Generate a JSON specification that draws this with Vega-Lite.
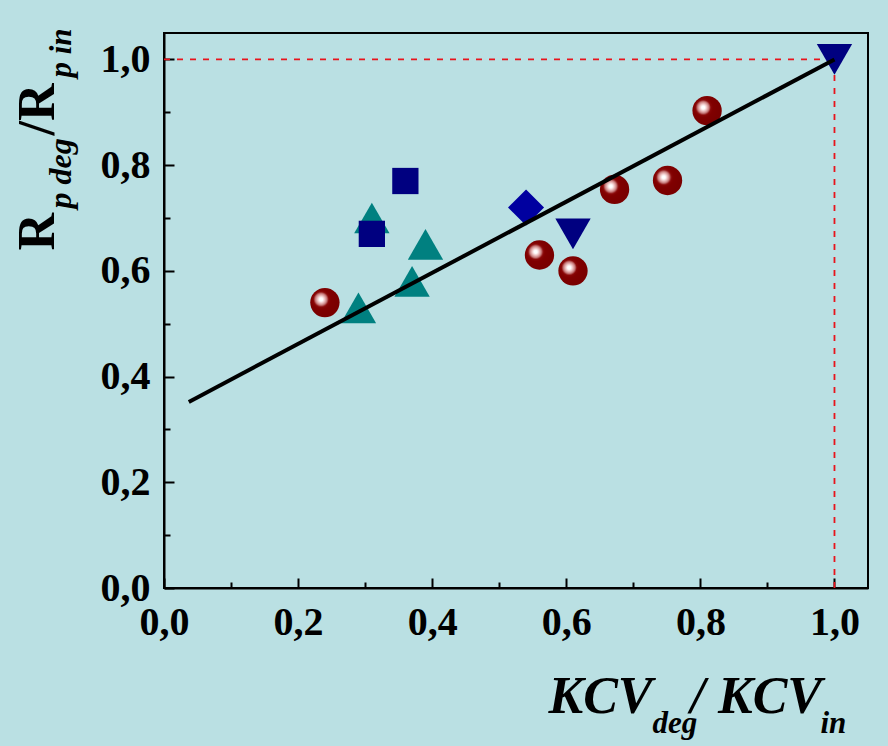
{
  "$schema": "https://vega.github.io/schema/vega-lite/v6.json",
  "width": 704,
  "height": 555,
  "autosize": {"type": "none"},
  "padding": {"left": 164, "top": 33, "right": 20, "bottom": 158},
  "background": "#bae0e3",
  "config": {
    "view": {"stroke": "#000000", "strokeWidth": 2},
    "axis": {
      "grid": false,
      "labelFont": "Liberation Serif",
      "titleFont": "Liberation Serif",
      "labelColor": "#000000",
      "titleColor": "#000000",
      "domainColor": "#000000",
      "tickColor": "#000000"
    }
  },
  "datasets": {
    "circles": [
      {"kcv": 0.24, "rp": 0.54},
      {"kcv": 0.56, "rp": 0.63},
      {"kcv": 0.61, "rp": 0.60},
      {"kcv": 0.672, "rp": 0.754},
      {"kcv": 0.751, "rp": 0.771},
      {"kcv": 0.81, "rp": 0.903}
    ],
    "markers": [
      {"kcv": 0.29, "rp": 0.53, "group": "tri"},
      {"kcv": 0.31, "rp": 0.70, "group": "tri"},
      {"kcv": 0.37, "rp": 0.58, "group": "tri"},
      {"kcv": 0.39, "rp": 0.65, "group": "tri"},
      {"kcv": 0.36, "rp": 0.77, "group": "sq"},
      {"kcv": 0.31, "rp": 0.67, "group": "sq"},
      {"kcv": 0.54, "rp": 0.72, "group": "dia"},
      {"kcv": 0.61, "rp": 0.67, "group": "down"},
      {"kcv": 1.0, "rp": 1.0, "group": "down"}
    ],
    "trend": [
      {"kcv": 0.037, "rp": 0.352},
      {"kcv": 1.0, "rp": 1.0}
    ],
    "hguide": [{"from": 0, "to": 1, "level": 1}],
    "vguide": [{"at": 1, "from": 0, "to": 1}]
  },
  "layer": [
    {
      "data": {"name": "hguide"},
      "mark": {"type": "rule", "color": "#e8141c", "strokeWidth": 1.8, "strokeDash": [6, 7]},
      "encoding": {
        "x": {
          "field": "from", "type": "quantitative",
          "scale": {"domain": [0, 1.05], "nice": false, "zero": false},
          "axis": {
            "orient": "bottom", "values": [0.1, 0.3, 0.5, 0.7, 0.9],
            "labels": false, "domain": false, "ticks": true, "tickSize": -6, "tickWidth": 2,
            "title": "deg", "titleFontSize": 31, "titleFontWeight": "bold", "titleFontStyle": "italic",
            "titleX": 488, "titleY": 144, "titleAlign": "left", "titleBaseline": "alphabetic", "titleAngle": 0
          }
        },
        "x2": {"field": "to"},
        "y": {
          "field": "level", "type": "quantitative",
          "scale": {"domain": [0, 1.05], "nice": false, "zero": false},
          "axis": {
            "orient": "left", "values": [0.1, 0.3, 0.5, 0.7, 0.9],
            "labels": false, "domain": false, "ticks": true, "tickSize": -6, "tickWidth": 2,
            "title": "p deg", "titleFontSize": 32, "titleFontWeight": "bold", "titleFontStyle": "italic",
            "titleX": -94, "titleY": 175, "titleAlign": "left", "titleBaseline": "alphabetic", "titleAngle": -90
          }
        }
      }
    },
    {
      "data": {"name": "vguide"},
      "mark": {"type": "rule", "color": "#e8141c", "strokeWidth": 1.8, "strokeDash": [6, 7]},
      "encoding": {
        "x": {
          "field": "at", "type": "quantitative",
          "scale": {"domain": [0, 1.05], "nice": false, "zero": false},
          "axis": {
            "orient": "bottom", "labels": false, "domain": false, "ticks": false,
            "title": "/ KCV", "titleFontSize": 52, "titleFontWeight": "bold", "titleFontStyle": "italic",
            "titleX": 526, "titleY": 124, "titleAlign": "left", "titleBaseline": "alphabetic", "titleAngle": 0
          }
        },
        "y": {
          "field": "from", "type": "quantitative",
          "scale": {"domain": [0, 1.05], "nice": false, "zero": false},
          "axis": {
            "orient": "left", "labels": false, "domain": false, "ticks": false,
            "title": "/R", "titleFontSize": 52, "titleFontWeight": "bold",
            "titleX": -111, "titleY": 102, "titleAlign": "left", "titleBaseline": "alphabetic", "titleAngle": -90
          }
        },
        "y2": {"field": "to"}
      }
    },
    {
      "data": {"name": "circles"},
      "mark": {
        "type": "point", "shape": "circle", "size": 860, "filled": true, "opacity": 1, "strokeWidth": 0,
        "fill": {
          "gradient": "radial",
          "x1": 0.37, "y1": 0.39, "r1": 0,
          "x2": 0.37, "y2": 0.39, "r2": 0.55,
          "stops": [
            {"offset": 0, "color": "#ffffff"},
            {"offset": 0.1, "color": "#ffffff"},
            {"offset": 0.22, "color": "#eec4c4"},
            {"offset": 0.36, "color": "#c67a7a"},
            {"offset": 0.47, "color": "#8a0808"},
            {"offset": 0.6, "color": "#800000"},
            {"offset": 1, "color": "#7a0000"}
          ]
        }
      },
      "encoding": {
        "x": {
          "field": "kcv", "type": "quantitative",
          "scale": {"domain": [0, 1.05], "nice": false, "zero": false},
          "axis": {
            "orient": "bottom", "labels": false, "domain": false, "ticks": false,
            "title": "in", "titleFontSize": 31, "titleFontWeight": "bold", "titleFontStyle": "italic",
            "titleX": 656, "titleY": 144, "titleAlign": "left", "titleBaseline": "alphabetic", "titleAngle": 0
          }
        },
        "y": {
          "field": "rp", "type": "quantitative",
          "scale": {"domain": [0, 1.05], "nice": false, "zero": false},
          "axis": {
            "orient": "left", "labels": false, "domain": false, "ticks": false,
            "title": "p in", "titleFontSize": 31, "titleFontWeight": "bold", "titleFontStyle": "italic",
            "titleX": -94, "titleY": 44, "titleAlign": "left", "titleBaseline": "alphabetic", "titleAngle": -90
          }
        }
      }
    },
    {
      "data": {"name": "markers"},
      "transform": [{"filter": "datum.group === 'tri'"}],
      "mark": {"type": "point", "shape": "triangle-up", "size": 1250, "filled": true, "opacity": 1, "color": "#008080"},
      "encoding": {
        "x": {"field": "kcv", "type": "quantitative", "scale": {"domain": [0, 1.05], "nice": false, "zero": false}, "axis": null},
        "y": {"field": "rp", "type": "quantitative", "scale": {"domain": [0, 1.05], "nice": false, "zero": false}, "axis": null}
      }
    },
    {
      "data": {"name": "markers"},
      "transform": [{"filter": "datum.group === 'sq'"}],
      "mark": {"type": "point", "shape": "square", "size": 690, "filled": true, "opacity": 1, "color": "#000080"},
      "encoding": {
        "x": {"field": "kcv", "type": "quantitative", "scale": {"domain": [0, 1.05], "nice": false, "zero": false}, "axis": null},
        "y": {"field": "rp", "type": "quantitative", "scale": {"domain": [0, 1.05], "nice": false, "zero": false}, "axis": null}
      }
    },
    {
      "data": {"name": "markers"},
      "transform": [{"filter": "datum.group === 'dia'"}],
      "mark": {"type": "point", "shape": "diamond", "size": 1300, "filled": true, "opacity": 1, "color": "#0000a0"},
      "encoding": {
        "x": {"field": "kcv", "type": "quantitative", "scale": {"domain": [0, 1.05], "nice": false, "zero": false}, "axis": null},
        "y": {"field": "rp", "type": "quantitative", "scale": {"domain": [0, 1.05], "nice": false, "zero": false}, "axis": null}
      }
    },
    {
      "data": {"name": "markers"},
      "transform": [{"filter": "datum.group === 'down'"}],
      "mark": {"type": "point", "shape": "triangle-down", "size": 1250, "filled": true, "opacity": 1, "color": "#000080"},
      "encoding": {
        "x": {"field": "kcv", "type": "quantitative", "scale": {"domain": [0, 1.05], "nice": false, "zero": false}, "axis": null},
        "y": {"field": "rp", "type": "quantitative", "scale": {"domain": [0, 1.05], "nice": false, "zero": false}, "axis": null}
      }
    },
    {
      "data": {"name": "trend"},
      "mark": {"type": "line", "color": "#000000", "strokeWidth": 4},
      "encoding": {
        "x": {
          "field": "kcv", "type": "quantitative",
          "scale": {"domain": [0, 1.05], "nice": false, "zero": false},
          "axis": {
            "orient": "bottom", "values": [0, 0.2, 0.4, 0.6, 0.8, 1.0],
            "tickSize": -10, "tickWidth": 2, "domainWidth": 2,
            "labelFontSize": 40, "labelFontWeight": "bold", "labelPadding": 24,
            "labelFlush": false, "labelOverlap": false, "labelBaseline": "top",
            "labelExpr": "replace(format(datum.value, '.1f'), '.', ',')",
            "title": "KCV", "titleFontSize": 52, "titleFontWeight": "bold", "titleFontStyle": "italic",
            "titleX": 384, "titleY": 124, "titleAlign": "left", "titleBaseline": "alphabetic", "titleAngle": 0
          }
        },
        "y": {
          "field": "rp", "type": "quantitative",
          "scale": {"domain": [0, 1.05], "nice": false, "zero": false},
          "axis": {
            "orient": "left", "values": [0, 0.2, 0.4, 0.6, 0.8, 1.0],
            "tickSize": -10, "tickWidth": 2, "domainWidth": 2,
            "labelFontSize": 40, "labelFontWeight": "bold", "labelPadding": 24,
            "labelFlush": false, "labelOverlap": false, "labelBaseline": "middle",
            "labelExpr": "replace(format(datum.value, '.1f'), '.', ',')",
            "title": "R", "titleFontSize": 52, "titleFontWeight": "bold",
            "titleX": -111, "titleY": 217, "titleAlign": "left", "titleBaseline": "alphabetic", "titleAngle": -90
          }
        }
      }
    }
  ],
  "resolve": {"axis": {"x": "independent", "y": "independent"}}
}
